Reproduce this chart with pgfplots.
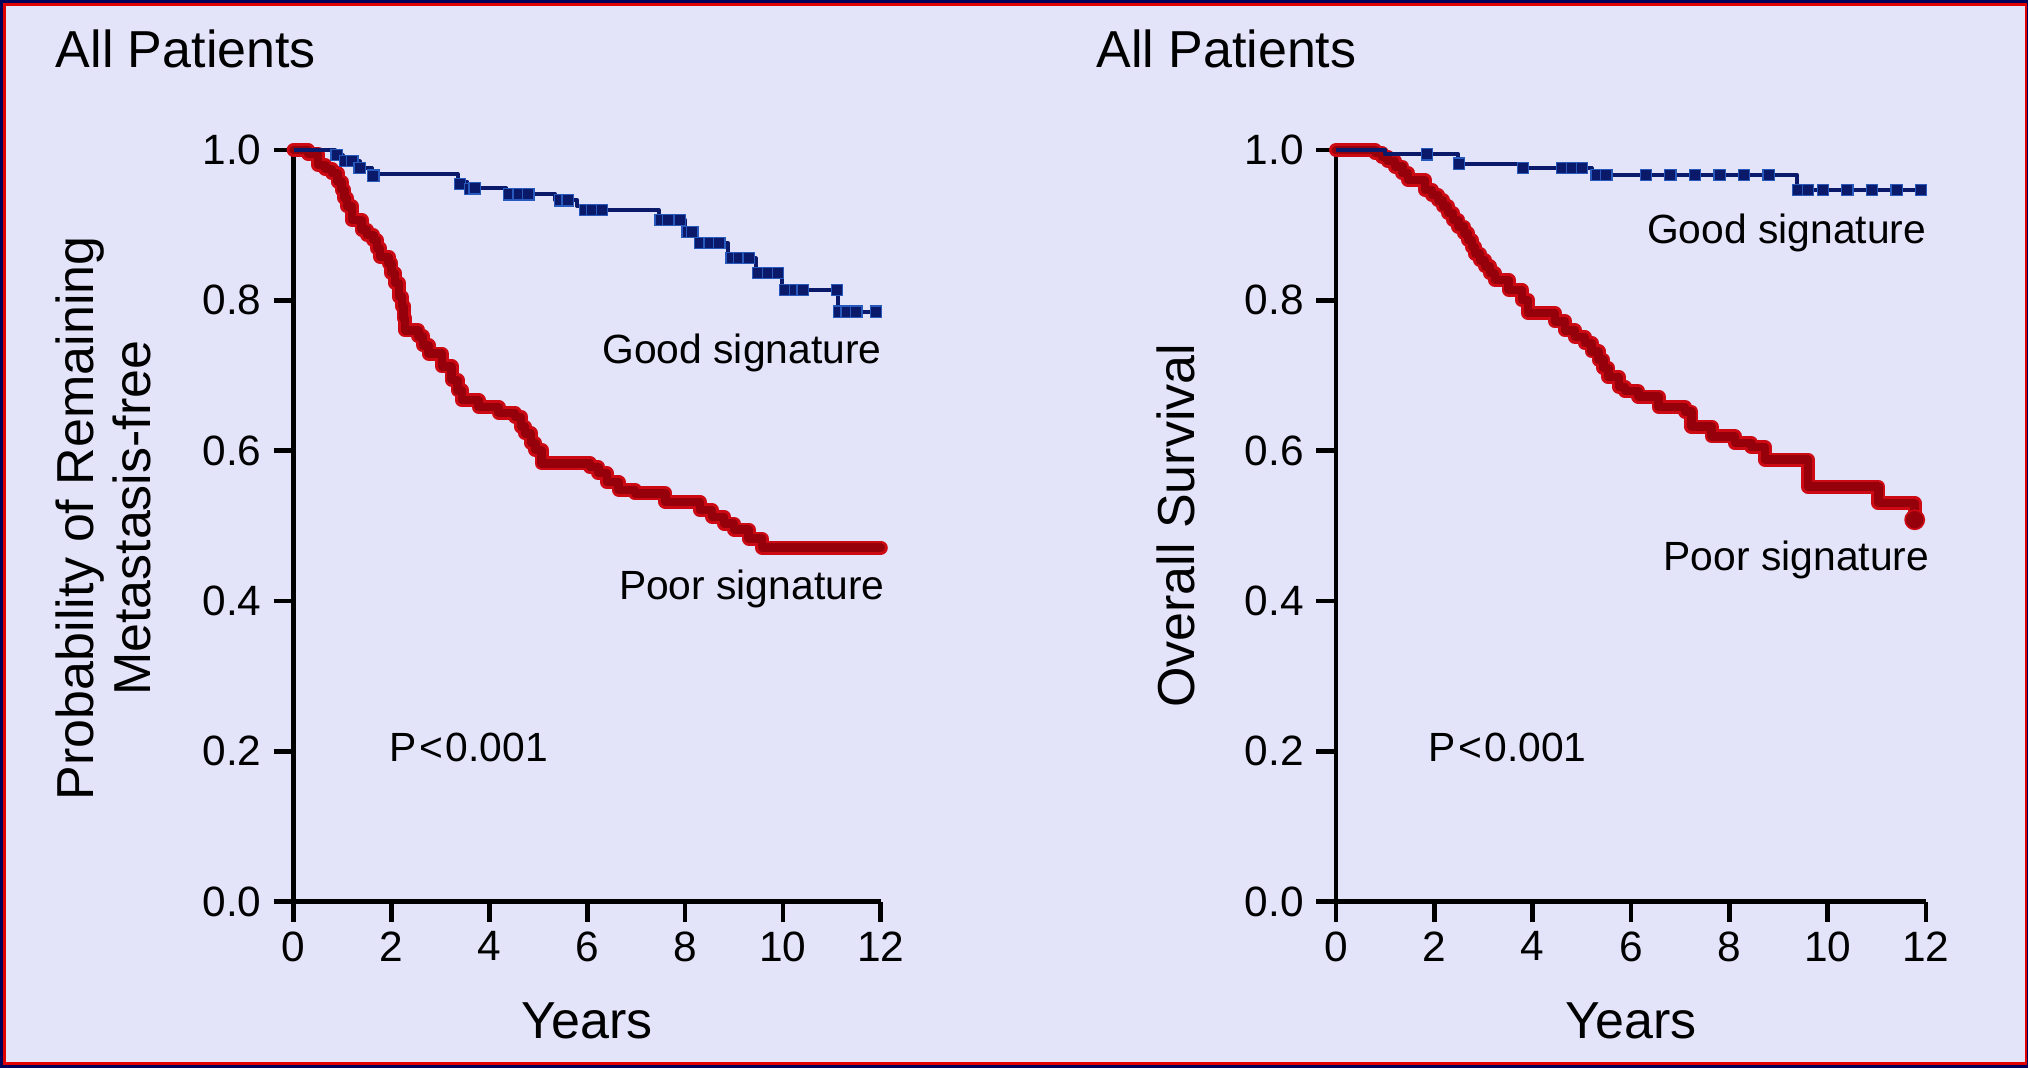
\documentclass[border=0pt]{standalone}
\usepackage{fontspec}
\setmainfont{Liberation Sans}
\usepackage{pgfplots}
\pgfplotsset{compat=1.18}
\definecolor{bg}{RGB}{227,227,250}
\definecolor{navyb}{RGB}{0,0,90}
\definecolor{redb}{RGB}{225,0,0}
\definecolor{kmred}{RGB}{205,10,20}
\definecolor{kmredd}{RGB}{150,0,10}
\definecolor{kmblue}{RGB}{40,90,190}
\definecolor{kmblued}{RGB}{10,25,105}

\tikzset{ann/.style={font=\fontsize{10.2}{12}\selectfont, inner sep=0pt}}

\pgfplotsset{
  kmaxis/.style={
    scale only axis, height=187.9pt,
    xmin=0, xmax=12, ymin=0, ymax=1,
    axis x line*=bottom, axis y line*=left,
    axis line style={-, line width=1.2pt, black},
    every outer x axis line/.append style={-},
    every outer y axis line/.append style={-},
    tick align=outside, major tick length=5pt,
    every tick/.style={line width=1.2pt, black},
    xtick={0,2,4,6,8,10,12}, ytick={0,0.2,0.4,0.6,0.8,1.0},
    minor tick num=0,
    /pgf/number format/assume math mode=true,
    yticklabel style={xshift=0.5pt, /pgf/number format/.cd, fixed, fixed zerofill, precision=1},
    xticklabel style={yshift=1pt},
    tick label style={font=\fontsize{10.6}{12}\selectfont},
    clip=false,
    xlabel={Years},
    xlabel style={font=\fontsize{13}{15}\selectfont, at={(axis description cs:0.5,-0.1825)}, anchor=base, inner sep=0pt},
    every axis title shift=0pt,
    title style={font=\fontsize{13}{15}\selectfont, anchor=base west, inner sep=0pt},
    ylabel style={font=\fontsize{13}{14.2}\selectfont, anchor=south, inner sep=0pt, align=center},
  },
  redkm/.style={const plot, line width=3.5pt, kmred, line join=round, line cap=round},
  redkmd/.style={const plot, line width=2.1pt, kmredd, line join=round, line cap=round},
  bluekm/.style={const plot, line width=1.0pt, kmblued, line join=round},
  blueblob/.style={only marks, mark=square*, mark size=1.4pt, kmblued, mark options={fill=kmblued, draw=kmblue, line width=0.3pt}},
}

\begin{document}
\begin{tikzpicture}
\useasboundingbox (0,0) rectangle (507pt,267pt);
\fill[navyb] (0,0) rectangle (507pt,267pt);
\fill[redb] (0.7pt,0.7pt) rectangle (506.75pt,266.2pt);
\fill[bg] (1.5pt,1.5pt) rectangle (506.25pt,265.4pt);

% ---------------- Left panel ----------------
\begin{axis}[kmaxis, width=146.8pt,
  at={(73.4pt,41.6pt)}, anchor=south west,
  title={All Patients}, title style={at={(axis description cs:-0.4063,1.1104)}},
  ylabel={Probability of Remaining\\Metastasis-free},
  ylabel style={at={(axis description cs:-0.2411,0.51)}},
]
\addplot[redkm] coordinates {
(0,1.0) (0.3,0.995) (0.5,0.98) (0.65,0.975) (0.78,0.969) (0.9,0.958) (0.98,0.947) (1.04,0.936) (1.09,0.925)
(1.19,0.907) (1.39,0.894) (1.5,0.887) (1.63,0.880) (1.7,0.869) (1.77,0.858) (1.94,0.849) (2.0,0.836) (2.07,0.823)
(2.15,0.805) (2.21,0.792) (2.25,0.776) (2.28,0.760) (2.55,0.752) (2.65,0.740) (2.76,0.729) (3.03,0.712)
(3.23,0.694) (3.35,0.680) (3.44,0.667) (3.78,0.658) (4.19,0.650) (4.53,0.645)
(4.65,0.632) (4.73,0.623) (4.85,0.610) (4.94,0.601) (5.07,0.583) (6.06,0.578)
(6.23,0.570) (6.4,0.558) (6.64,0.548) (6.98,0.543) (7.6,0.532) (8.3,0.521) (8.55,0.512)
(8.8,0.503) (9.0,0.495) (9.3,0.483) (9.57,0.471) (12.0,0.471)};
\addplot[redkmd] coordinates {
(0,1.0) (0.3,0.995) (0.5,0.98) (0.65,0.975) (0.78,0.969) (0.9,0.958) (0.98,0.947) (1.04,0.936) (1.09,0.925)
(1.19,0.907) (1.39,0.894) (1.5,0.887) (1.63,0.880) (1.7,0.869) (1.77,0.858) (1.94,0.849) (2.0,0.836) (2.07,0.823)
(2.15,0.805) (2.21,0.792) (2.25,0.776) (2.28,0.760) (2.55,0.752) (2.65,0.740) (2.76,0.729) (3.03,0.712)
(3.23,0.694) (3.35,0.680) (3.44,0.667) (3.78,0.658) (4.19,0.650) (4.53,0.645)
(4.65,0.632) (4.73,0.623) (4.85,0.610) (4.94,0.601) (5.07,0.583) (6.06,0.578)
(6.23,0.570) (6.4,0.558) (6.64,0.548) (6.98,0.543) (7.6,0.532) (8.3,0.521) (8.55,0.512)
(8.8,0.503) (9.0,0.495) (9.3,0.483) (9.57,0.471) (12.0,0.471)};
\addplot[bluekm] coordinates {
(0,1.0) (0.85,0.993) (1.0,0.985) (1.35,0.976) (1.6,0.968) (3.35,0.958) (3.55,0.949)
(4.35,0.941) (5.35,0.933) (5.8,0.925) (5.95,0.920) (7.46,0.907) (8.0,0.891)
(8.25,0.876) (8.88,0.856) (9.44,0.836) (9.98,0.814) (11.13,0.785) (11.95,0.785)};
\addplot[blueblob] coordinates {
(0.88,0.993) (1.05,0.985) (1.2,0.985) (1.35,0.976) (1.63,0.966) (3.4,0.955) (3.6,0.948) (3.7,0.949)
(4.4,0.941) (4.6,0.941) (4.8,0.941) (5.45,0.933) (5.6,0.933) (5.95,0.920) (6.1,0.920) (6.3,0.920)
(7.5,0.907) (7.65,0.907) (7.9,0.907)
(8.05,0.891) (8.15,0.891) (8.3,0.876) (8.5,0.876) (8.7,0.876) (8.95,0.856) (9.1,0.856) (9.3,0.856)
(9.5,0.836) (9.7,0.836) (9.9,0.836)
(10.05,0.814) (10.25,0.814) (10.4,0.814) (11.1,0.814) (11.15,0.785) (11.3,0.785) (11.5,0.785) (11.9,0.785)};
\node[ann, anchor=base east] at (axis cs:12.03,0.716) {Good signature};
\node[ann, anchor=base east] at (axis cs:12.09,0.4025) {Poor signature};
\node[ann, anchor=base west] at (axis cs:1.95,0.186) {P{\kern0.6pt}<{\kern0.6pt}0.001};
\end{axis}

% ---------------- Right panel ----------------
\begin{axis}[kmaxis, width=147.5pt,
  at={(334pt,41.6pt)}, anchor=south west,
  title={All Patients}, title style={at={(axis description cs:-0.4075,1.1104)}},
  ylabel={Overall Survival},
  ylabel style={at={(axis description cs:-0.2373,0.50)}},
]
\addplot[redkm] coordinates {
(0,1.0) (0.66,1.0) (0.8,0.996) (0.93,0.991) (1.05,0.985) (1.2,0.978) (1.35,0.969) (1.47,0.960) (1.81,0.947) (1.95,0.940) (2.08,0.933)
(2.18,0.925) (2.28,0.916) (2.38,0.907) (2.49,0.898) (2.6,0.889) (2.69,0.880) (2.76,0.871) (2.83,0.862) (2.93,0.853) (3.03,0.845) (3.13,0.836) (3.23,0.827)
(3.51,0.814) (3.78,0.800) (3.91,0.783) (4.32,0.783) (4.45,0.772) (4.66,0.760)
(4.86,0.751) (5.06,0.743) (5.2,0.732) (5.34,0.721) (5.44,0.710) (5.54,0.698) (5.75,0.685) (5.88,0.679) (6.15,0.672)
(6.56,0.658) (7.1,0.652) (7.23,0.632) (7.64,0.619) (8.11,0.610) (8.45,0.605)
(8.72,0.588) (9.6,0.552) (11.03,0.530) (11.77,0.508)};
\addplot[redkmd] coordinates {
(0,1.0) (0.66,1.0) (0.8,0.996) (0.93,0.991) (1.05,0.985) (1.2,0.978) (1.35,0.969) (1.47,0.960) (1.81,0.947) (1.95,0.940) (2.08,0.933)
(2.18,0.925) (2.28,0.916) (2.38,0.907) (2.49,0.898) (2.6,0.889) (2.69,0.880) (2.76,0.871) (2.83,0.862) (2.93,0.853) (3.03,0.845) (3.13,0.836) (3.23,0.827)
(3.51,0.814) (3.78,0.800) (3.91,0.783) (4.32,0.783) (4.45,0.772) (4.66,0.760)
(4.86,0.751) (5.06,0.743) (5.2,0.732) (5.34,0.721) (5.44,0.710) (5.54,0.698) (5.75,0.685) (5.88,0.679) (6.15,0.672)
(6.56,0.658) (7.1,0.652) (7.23,0.632) (7.64,0.619) (8.11,0.610) (8.45,0.605)
(8.72,0.588) (9.6,0.552) (11.03,0.530) (11.77,0.508)};
\addplot[only marks, mark=*, mark size=2.4pt, kmredd, mark options={fill=kmredd, draw=kmred}] coordinates {(11.77,0.508)};
\addplot[bluekm] coordinates {
(0,1.0) (1.0,0.994) (2.49,0.982) (3.78,0.976) (5.2,0.967) (9.37,0.947) (11.93,0.947)};
\addplot[blueblob] coordinates {
(1.85,0.994) (2.5,0.982) (3.8,0.976) (4.6,0.976) (4.8,0.976) (5.0,0.976) (5.3,0.967) (5.5,0.967)
(6.3,0.967) (6.8,0.967) (7.3,0.967) (7.8,0.967) (8.3,0.967) (8.8,0.967) (9.4,0.947) (9.6,0.947)
(9.9,0.947) (10.4,0.947) (10.9,0.947) (11.4,0.947) (11.9,0.947)};
\node[ann, anchor=base east] at (axis cs:12.02,0.876) {Good signature};
\node[ann, anchor=base east] at (axis cs:12.08,0.441) {Poor signature};
\node[ann, anchor=base west] at (axis cs:1.87,0.186) {P{\kern0.6pt}<{\kern0.6pt}0.001};
\end{axis}
\end{tikzpicture}
\end{document}
